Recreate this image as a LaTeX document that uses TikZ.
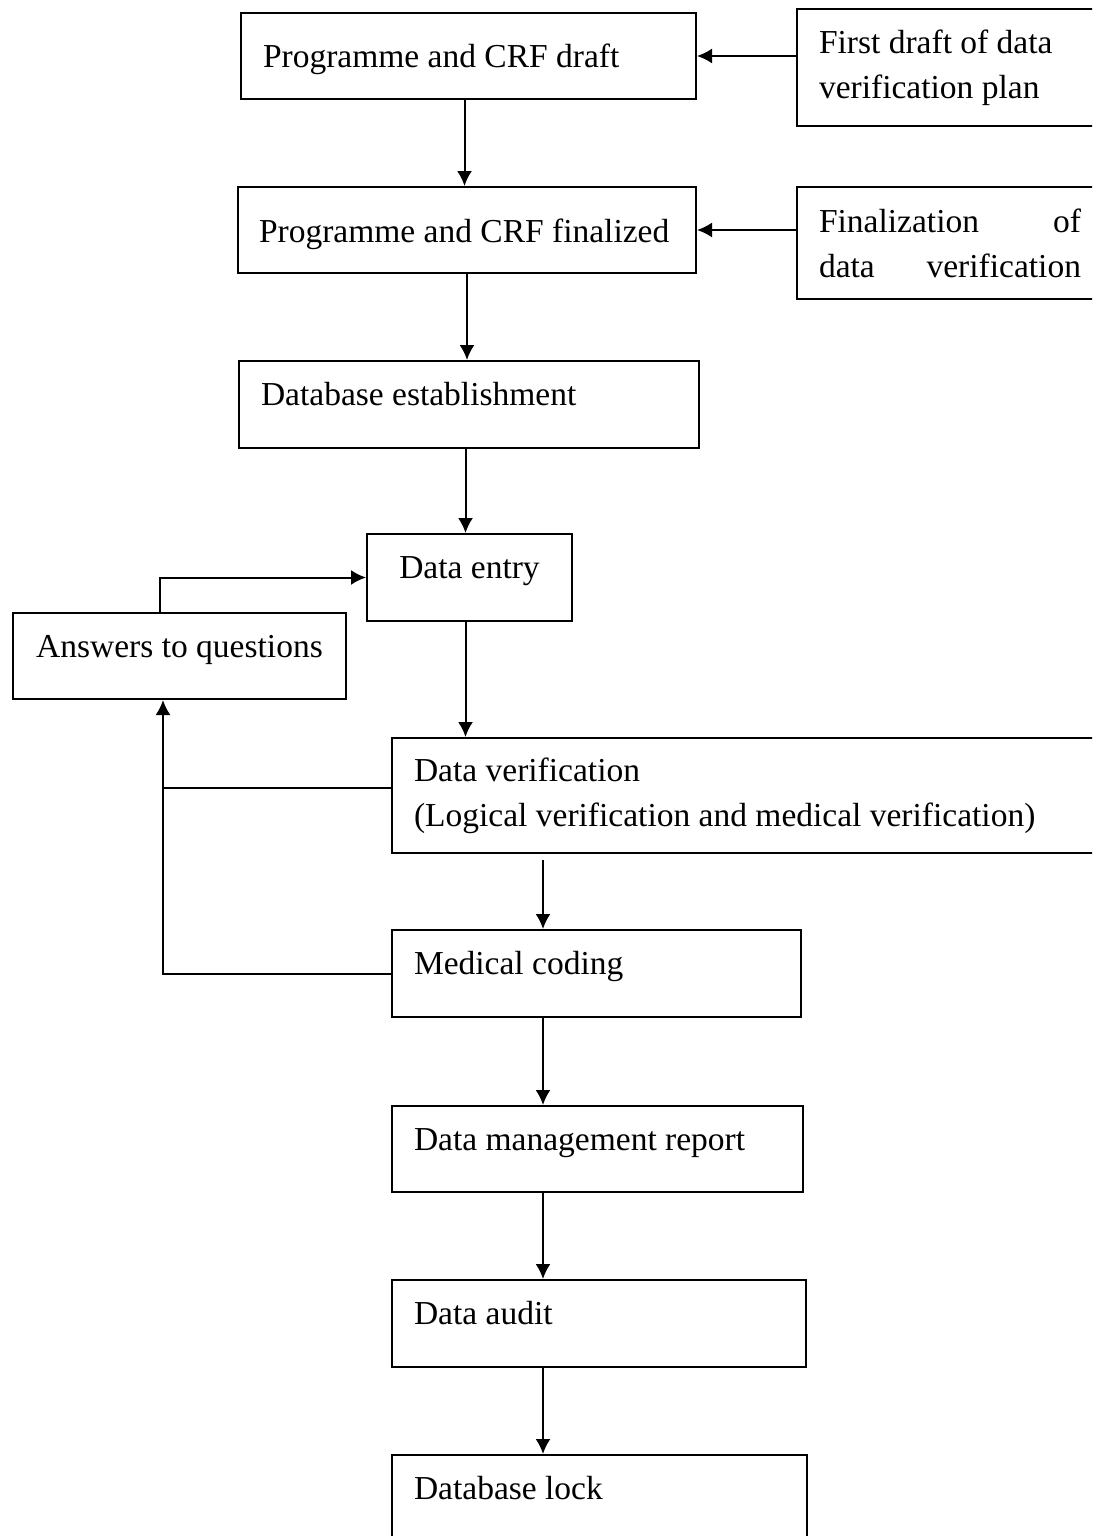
\documentclass[tikz,border=0pt]{standalone}
\usepackage{fontspec}
\setmainfont{Liberation Serif}
\usetikzlibrary{arrows.meta}
\tikzset{
  stage/.style = {shape=rectangle, draw, anchor=north west,
                  align=flush left, inner xsep=22pt, inner ysep=0pt,
                  text height=44pt, text depth=43pt},
  stageC/.style = {stage, text height=55pt, text depth=31pt},
  stageM/.style = {stage, align=center, inner xsep=0pt},
  plan/.style  = {shape=rectangle, draw, anchor=north west,
                  align=flush left, inner xsep=22pt, inner ysep=0pt,
                  text width=262pt, minimum height=117pt}
}

\begin{document}
\begin{tikzpicture}
  [
    x = 1pt, y = -1pt,
    line width = 2pt,
    >= {Latex[length=15pt,width=15pt]},
    every node/.style = {font=\fontsize{33.5}{45}\selectfont}
  ]
  \useasboundingbox (0,0) rectangle (1092,1536);
  \clip (0,0) rectangle (1092,1536);

  \node [stageC, text width=411pt] (draft) at (240,12) {Programme and CRF draft};
  \node [plan] (plan1) at (796,8) {First draft of data\\verification plan};
  \node [stageC, text width=416pt, inner xsep=21pt] (final) at (237,186) {Programme and CRF finalized};
  \node [plan, minimum height=112pt] (plan2) at (796,186) {Finalization\hfill of\\data\hfill verification};
  \node [stage, text width=416pt] (db) at (238,360) {Database establishment};
  \node [stageM, minimum width=205pt] (entry) at (366,533) {Data entry};
  \node [stageM, minimum width=333pt, text depth=42pt] (ans) at (12,612) {Answers to questions};
  \node [plan, text width=676pt, minimum height=115pt] (verif) at (391,737)
        {Data verification\\(Logical verification and medical verification)};
  \node [stage, text width=365pt] (coding) at (391,929) {Medical coding};
  \node [stage, text width=367pt, text depth=42pt] (report) at (391,1105) {Data management report};
  \node [stage, text width=370pt] (audit) at (391,1279) {Data audit};
  \node [stage, text width=371pt] (lock) at (391,1454) {Database lock};

  \coordinate (spine) at (543,0);
  \coordinate (up)    at (160,0);
  \coordinate (back)  at (163,0);
  \coordinate (vjoin) at ([yshift=8pt]verif.west);

  \draw[->] (plan1.west |- draft) -- (draft.east);
  \draw[->] (plan2.west |- final) -- (final.east);
  \draw[->] ([xshift=-4pt]draft.south) -- ([xshift=-4pt]draft.south |- final.north);
  \draw[->] (final.south) -- (final.south |- db.north);
  \draw[->] ([xshift=-4pt]entry.north |- db.south) -- ([xshift=-4pt]entry.north);
  \draw[->] ([xshift=-4pt]entry.south) -- ([xshift=-4pt]entry.south |- verif.north);
  \draw[->] ([yshift=-6pt]verif.south -| spine) -- (coding.north -| spine);
  \draw[->] (coding.south -| spine) -- (report.north -| spine);
  \draw[->] (report.south -| spine) -- (audit.north -| spine);
  \draw[->] (audit.south -| spine) -- (lock.north -| spine);
  \draw[->] (ans.north -| up) |- (entry.west);
  \draw[->] (vjoin) -| (ans.south -| back);
  \draw (coding.west) -| (back |- vjoin);
\end{tikzpicture}
\end{document}
